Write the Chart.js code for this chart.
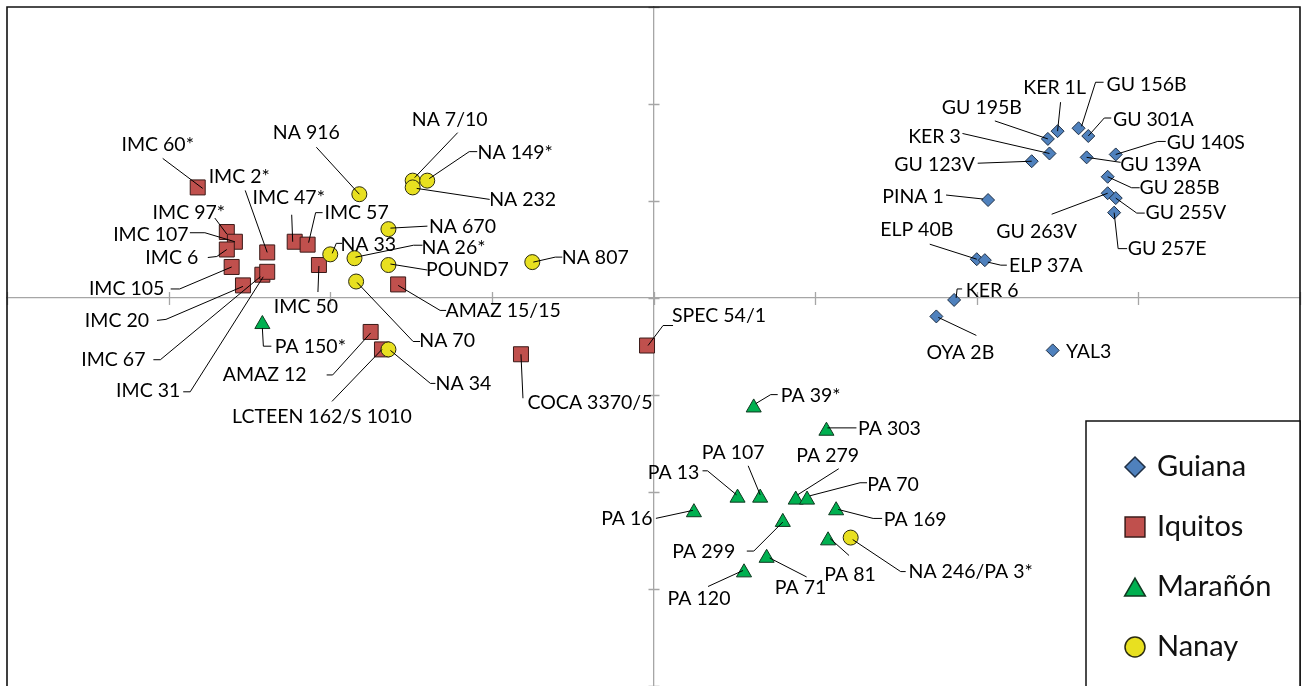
<!DOCTYPE html>
<html>
<head>
<meta charset="utf-8">
<script src="https://cdn.jsdelivr.net/npm/chart.js@4/dist/chart.umd.min.js"></script>
<style>
  html, body { margin: 0; padding: 0; background: #fff; }
  canvas { display: block; }
</style>
</head>
<body>
<canvas id="grafico" width="1304" height="686"></canvas>
<script>
// groups
const groups = ['Guiana', 'Iquitos', 'Marañón', 'Nanay'];

const guianaNames = ['KER 1L', 'GU 195B', 'KER 3', 'GU 123V', 'GU 156B', 'GU 301A', 'GU 140S', 'GU 139A', 'GU 285B',
  'GU 263V', 'GU 255V', 'GU 257E', 'PINA 1', 'ELP 40B', 'ELP 37A', 'KER 6', 'OYA 2B', 'YAL3'];
const guianaX = [2.50, 2.44, 2.45, 2.34, 2.63, 2.69, 2.86, 2.68, 2.81, 2.81, 2.86, 2.85, 2.07, 2.00, 2.05, 1.86, 1.75, 2.47];
const guianaY = [1.72, 1.64, 1.49, 1.41, 1.75, 1.67, 1.48, 1.45, 1.25, 1.08, 1.03, 0.88, 1.01, 0.40, 0.39, -0.02, -0.19, -0.54];

const iquitosNames = ['IMC 60*', 'IMC 2*', 'IMC 97*', 'IMC 107', 'IMC 6', 'IMC 105', 'IMC 20', 'IMC 67', 'IMC 31',
  'IMC 47*', 'IMC 57', 'IMC 50', 'AMAZ 15/15', 'AMAZ 12', 'LCTEEN 162/S 1010', 'COCA 3370/5', 'SPEC 54/1'];
const iquitosX = [-2.82, -2.39, -2.64, -2.59, -2.64, -2.61, -2.54, -2.42, -2.39, -2.22, -2.14, -2.07, -1.58, -1.75, -1.68, -0.82, -0.04];
const iquitosY = [1.14, 0.47, 0.68, 0.58, 0.50, 0.32, 0.13, 0.24, 0.27, 0.58, 0.55, 0.34, 0.14, -0.35, -0.53, -0.58, -0.49];

const maranonNames = ['PA 150*', 'PA 39*', 'PA 303', 'PA 13', 'PA 107', 'PA 279', 'PA 70', 'PA 16', 'PA 169',
  'PA 299', 'PA 120', 'PA 71', 'PA 81'];
const maranonX = [-2.42, 0.62, 1.07, 0.52, 0.66, 0.88, 0.95, 0.25, 1.13, 0.80, 0.56, 0.70, 1.08];
const maranonY = [-0.27, -1.13, -1.37, -2.06, -2.06, -2.08, -2.08, -2.21, -2.19, -2.31, -2.83, -2.68, -2.50];

const nanayNames = ['NA 916', 'NA 7/10', 'NA 232', 'NA 149*', 'NA 670', 'NA 33', 'NA 26*', 'POUND7', 'NA 807',
  'NA 70', 'NA 34', 'NA 246/PA 3*'];
const nanayX = [-1.82, -1.49, -1.49, -1.40, -1.64, -2.00, -1.85, -1.64, -0.75, -1.84, -1.64, 1.22];
const nanayY = [1.07, 1.21, 1.14, 1.21, 0.71, 0.45, 0.41, 0.34, 0.37, 0.17, -0.53, -2.47];

const axisTicks = [-4, -3, -2, -1, 0, 1, 2, 3, 4];

// label placement: text centre offset from the marker, and leader line points (px)
const labelLayout = {
  'KER 1L': [-3, -43, [[3, -29], [0, 0]]],
  'GU 195B': [-66, -31, [[-53, -18], [0, 0]]],
  'KER 3': [-115, -17, [[-87, -20], [0, 0]]],
  'GU 123V': [-97, 3, [[-54, 2], [0, 0]]],
  'GU 156B': [68, -44, [[3, -2], [17, -46], [25, -46]]],
  'GU 301A': [65, -16, [[0, 0], [16, -18], [23, -18]]],
  'GU 140S': [90, -12, [[0, 0], [42, -13], [50, -13]]],
  'GU 139A': [74, 7, [[0, 0], [34, 5]]],
  'GU 285B': [72, 11, [[0, 0], [24, 11], [32, 11]]],
  'GU 263V': [-71, 38, [[-56, 21], [0, 0]]],
  'GU 255V': [70, 15, [[0, 0], [21, 15], [29, 15]]],
  'GU 257E': [53, 36, [[0, 0], [4, 36], [13, 36]]],
  'PINA 1': [-75, -3, [[-42, -5], [-5, -1]]],
  'ELP 40B': [-60, -29, [[-47, -15], [0, 0]]],
  'ELP 37A': [61, 6, [[3, 2], [16, 5], [22, 5]]],
  'KER 6': [38, -9, [[2, -2], [3, -11], [8, -11]]],
  'OYA 2B': [24, 36, [[2, 1], [40, 19]]],
  'YAL3': [36, 1, null],
  'IMC 60*': [-40, -43, [[-35, -29], [5, 1]]],
  'IMC 2*': [-28, -76, [[-22, -62], [0, 0]]],
  'IMC 97*': [-38, -19, [[-12, -14], [0, 2]]],
  'IMC 107': [-84, -7, [[-45, -9], [-30, -9], [0, 0]]],
  'IMC 6': [-55, 8, [[-19, 8], [-10, 7], [0, 0]]],
  'IMC 105': [-105, 22, [[-61, 22], [-52, 22], [0, 0]]],
  'IMC 20': [-126, 35, [[-86, 35], [-77, 34], [0, 1]]],
  'IMC 67': [-149, 85, [[-109, 85], [-102, 85], [-2, 2]]],
  'IMC 31': [-119, 119, [[-84, 120], [-77, 120], [-4, 5]]],
  'IMC 47*': [-6, -44, [[-3, -27], [-2, 0]]],
  'IMC 57': [49, -32, [[1, -2], [8, -32], [15, -32]]],
  'IMC 50': [-13, 42, [[0, 1], [-1, 27]]],
  'AMAZ 15/15': [105, 26, [[0, 1], [42, 26], [48, 26]]],
  'AMAZ 12': [-106, 43, [[-44, 43], [-38, 43], [0, 1]]],
  'LCTEEN 162/S 1010': [-60, 67, [[-50, 52], [0, 0]]],
  'COCA 3370/5': [69, 48, [[0, 0], [2, 44]]],
  'SPEC 54/1': [72, -30, [[1, 0], [16, -20], [26, -20]]],
  'PA 150*': [48, 23, [[0, 4], [1, 22], [9, 22]]],
  'PA 39*': [57, -12, [[2, -4], [17, -13], [24, -13]]],
  'PA 303': [63, -2, [[1, -3], [30, -3]]],
  'PA 13': [-64, -25, [[-35, -27], [-30, -27], [-1, -3]]],
  'PA 107': [-27, -45, [[-12, -32], [0, -3]]],
  'PA 279': [32, -44, [[2, -5], [43, -31]]],
  'PA 70': [86, -15, [[3, -4], [53, -17], [60, -17]]],
  'PA 16': [-67, 6, [[-38, 6], [-1, -2]]],
  'PA 169': [79, 9, [[2, -1], [37, 8], [46, 8]]],
  'PA 299': [-79, 30, [[-36, 29], [-29, 29], [0, 0]]],
  'PA 120': [-45, 26, [[-36, 14], [-1, -2]]],
  'PA 71': [34, 30, [[3, 0], [40, 19]]],
  'PA 81': [22, 34, [[2, -2], [21, 15]]],
  'NA 916': [-53, -61, [[-43, -47], [0, 0]]],
  'NA 7/10': [37, -61, [[45, -48], [2, -3]]],
  'NA 232': [110, 12, [[4, 1], [77, 12]]],
  'NA 149*': [88, -28, [[2, -2], [42, -29], [50, -29]]],
  'NA 670': [74, -2, [[2, -1], [39, -3]]],
  'NA 33': [38, -10, [[2, -1], [6, -11], [12, -11]]],
  'NA 26*': [99, -11, [[1, -1], [59, -13], [68, -13]]],
  'POUND7': [79, 5, [[2, -1], [39, 5]]],
  'NA 807': [63, -4, [[1, 0], [23, -5], [30, -5]]],
  'NA 70': [91, 59, [[1, 1], [57, 60], [64, 60]]],
  'NA 34': [75, 34, [[2, 1], [42, 34], [47, 34]]],
  'NA 246/PA 3*': [120, 34, [[2, 2], [50, 34], [55, 34]]]
};

function pontos(xs, ys) {
  return xs.map((x, i) => ({ x: x, y: ys[i] }));
}

const nomes = [guianaNames, iquitosNames, maranonNames, nanayNames];

const fonte = 'Lato, "Open Sans", sans-serif';

// borda + marcas dos eixos
const molduraPlugin = {
  id: 'moldura',
  beforeDatasetsDraw(chart) {
    const ctx = chart.ctx;
    const a = chart.chartArea;
    const sx = chart.scales.x, sy = chart.scales.y;
    const x0 = sx.getPixelForValue(0), y0 = sy.getPixelForValue(0);
    ctx.save();
    ctx.strokeStyle = '#a6a6a6';
    ctx.lineWidth = 1.3;
    ctx.beginPath();
    sx.ticks.forEach(t => {
      const px = Math.round(sx.getPixelForValue(t.value)) + 0.5;
      ctx.moveTo(px, y0 - 6);
      ctx.lineTo(px, y0 + 7);
    });
    sy.ticks.forEach(t => {
      const py = Math.round(sy.getPixelForValue(t.value)) + 0.5;
      ctx.moveTo(x0 - 5, py);
      ctx.lineTo(x0 + 6, py);
    });
    ctx.stroke();
    ctx.strokeStyle = '#111';
    ctx.lineWidth = 1.6;
    ctx.beginPath();
    ctx.moveTo(a.left, a.bottom + 2);
    ctx.lineTo(a.left, a.top);
    ctx.lineTo(a.right, a.top);
    ctx.lineTo(a.right, a.bottom + 2);
    ctx.stroke();
    ctx.restore();
  }
};

// rotulos com linhas de chamada
const rotulosPlugin = {
  id: 'rotulos',
  afterDatasetsDraw(chart) {
    const ctx = chart.ctx;
    ctx.save();
    ctx.font = '19.5px ' + fonte;
    ctx.textAlign = 'center';
    ctx.textBaseline = 'middle';
    ctx.fillStyle = '#000';
    ctx.strokeStyle = '#000';
    ctx.lineWidth = 1;
    chart.data.datasets.forEach((ds, di) => {
      const meta = chart.getDatasetMeta(di);
      meta.data.forEach((el, i) => {
        const nome = nomes[di][i];
        const lay = labelLayout[nome];
        if (!lay) return;
        const leader = lay[2];
        if (leader) {
          ctx.beginPath();
          leader.forEach((p, k) => {
            if (k === 0) ctx.moveTo(el.x + p[0], el.y + p[1]);
            else ctx.lineTo(el.x + p[0], el.y + p[1]);
          });
          ctx.stroke();
        }
        ctx.fillText(nome, el.x + lay[0], el.y + lay[1]);
      });
    });
    ctx.restore();
  }
};

// legenda em caixa no canto inferior direito
const legendaPlugin = {
  id: 'legenda',
  afterDraw(chart) {
    const ctx = chart.ctx;
    const left = 1086, top = 421;
    ctx.save();
    ctx.fillStyle = '#fff';
    ctx.fillRect(left, top, 214, 280);
    ctx.strokeStyle = '#111';
    ctx.lineWidth = 1.5;
    ctx.beginPath();
    ctx.moveTo(left, 700);
    ctx.lineTo(left, top);
    ctx.lineTo(1300, top);
    ctx.lineTo(1300, 700);
    ctx.stroke();
    const raios = [10, 14, 12, 10];
    ctx.font = '29px ' + fonte;
    ctx.textAlign = 'left';
    ctx.textBaseline = 'middle';
    chart.data.datasets.forEach((ds, i) => {
      const y = 467 + i * 60;
      ctx.fillStyle = ds.backgroundColor;
      ctx.strokeStyle = ds.borderColor;
      ctx.lineWidth = 1.5;
      Chart.helpers.drawPoint(ctx, { pointStyle: ds.pointStyle, radius: raios[i], rotation: 0, borderWidth: 1.5 },
        1135, y + (ds.pointStyle === 'triangle' ? 3 : 0));
      ctx.fillStyle = '#111';
      ctx.fillText(ds.label, 1157, y);
    });
    ctx.restore();
  }
};

const ctxGrafico = document.getElementById('grafico').getContext('2d');
new Chart(ctxGrafico, {
  type: 'scatter',
  data: {
    datasets: [{
      label: groups[0],
      data: pontos(guianaX, guianaY),
      pointStyle: 'rectRot',
      pointRadius: 6.5,
      backgroundColor: '#4f81bd',
      borderColor: '#1f2f44',
      borderWidth: 1,
      order: 4
    }, {
      label: groups[1],
      data: pontos(iquitosX, iquitosY),
      pointStyle: 'rect',
      pointRadius: 10.6,
      backgroundColor: '#c0504d',
      borderColor: '#3a1a18',
      borderWidth: 1,
      order: 3
    }, {
      label: groups[2],
      data: pontos(maranonX, maranonY),
      pointStyle: 'triangle',
      pointRadius: 8.7,
      backgroundColor: '#00b050',
      borderColor: '#103820',
      borderWidth: 1,
      order: 2
    }, {
      label: groups[3],
      data: pontos(nanayX, nanayY),
      pointStyle: 'circle',
      pointRadius: 7.5,
      backgroundColor: '#e8e020',
      borderColor: '#2a2a10',
      borderWidth: 1,
      order: 1
    }]
  },
  options: {
    responsive: false,
    animation: false,
    layout: { autoPadding: false, padding: { left: 7, top: 7, right: 4, bottom: 0 } },
    scales: {
      x: {
        type: 'linear',
        min: axisTicks[0],
        max: axisTicks[axisTicks.length - 1],
        position: { y: 0 },
        ticks: { display: false, stepSize: 1 },
        grid: { display: false },
        border: { display: true, color: '#a6a6a6', width: 1.3 }
      },
      y: {
        type: 'linear',
        min: -4,
        max: 3,
        position: { x: 0 },
        ticks: { display: false, stepSize: 1 },
        grid: { display: false },
        border: { display: true, color: '#a6a6a6', width: 1.3 }
      }
    },
    plugins: {
      legend: { display: false },
      tooltip: { enabled: false }
    }
  },
  plugins: [molduraPlugin, rotulosPlugin, legendaPlugin]
});
</script>
</body>
</html>
